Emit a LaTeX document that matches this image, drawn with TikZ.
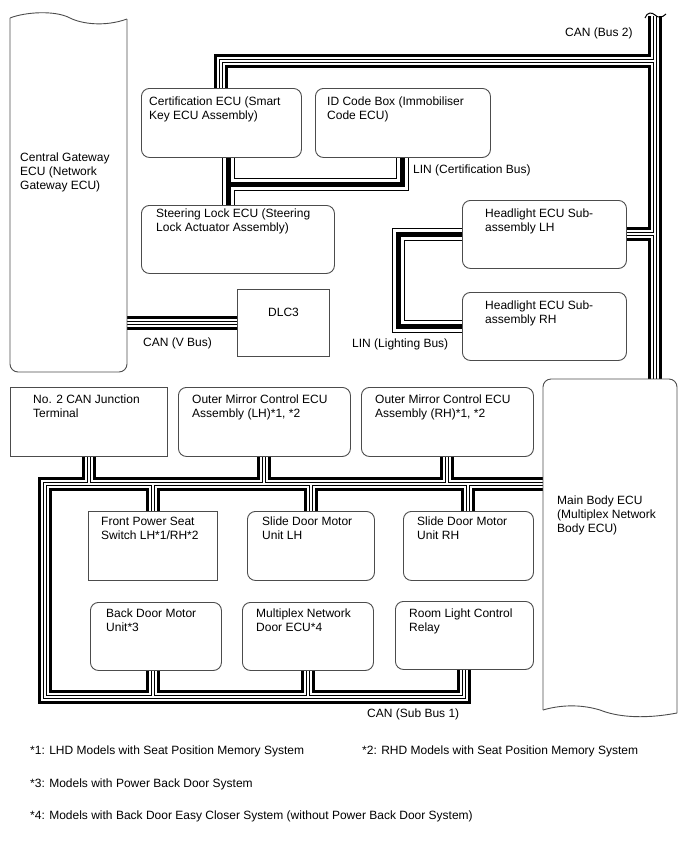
\documentclass[tikz,border=0pt]{standalone}
\usepackage{fontspec}
\setmainfont{Liberation Sans}
\begin{document}
\begin{tikzpicture}[x=1pt,y=-1pt,
  box/.style={draw=black!70, line width=0.9pt, fill=white, rounded corners=8pt, anchor=north west, inner sep=0pt},
  sbox/.style={box, rounded corners=0pt},
  ghost/.style={draw=none, fill=none, anchor=north west, inner sep=0pt, outer sep=0pt},
  outline/.style={draw=black!70, line width=0.9pt},
  txt/.style={anchor=north west, inner sep=0pt, align=left, font=\fontsize{12}{14}\selectfont},
  lbl/.style={anchor=base west, inner sep=0pt, font=\fontsize{12}{14}\selectfont},
]
\useasboundingbox (0,0) rectangle (688,852);

% ---------- ECU shapes with wavy edges ----------
\node[ghost, minimum width=117, minimum height=354] (gw) at (10,18) {};
\node[ghost, minimum width=134, minimum height=333] (mb) at (543,379) {};

% ---------- boxes ----------
\node[box, minimum width=160, minimum height=69] (cert) at (141,88) {};
\node[box, minimum width=175, minimum height=69] (idbox) at (315,88) {};
\node[box, minimum width=193, minimum height=68] (steer) at (141,205) {};
\node[sbox, minimum width=92, minimum height=67] (dlc) at (237,289) {};
\node[box, minimum width=164, minimum height=68] (hlL) at (462,200) {};
\node[box, minimum width=164, minimum height=68] (hlR) at (462,292) {};
\node[sbox, minimum width=157, minimum height=69] (jct) at (10,387) {};
\node[box, minimum width=172, minimum height=69] (mirL) at (178,387) {};
\node[box, minimum width=172, minimum height=69] (mirR) at (361,387) {};
\node[sbox, minimum width=129, minimum height=69] (seat) at (88,511) {};
\node[box, minimum width=127, minimum height=69] (slideL) at (247,511) {};
\node[box, minimum width=130, minimum height=69] (slideR) at (403,511) {};
\node[box, minimum width=131, minimum height=68] (back) at (90,602) {};
\node[box, minimum width=131, minimum height=68] (mux) at (242,602) {};
\node[box, minimum width=138, minimum height=68] (room) at (395,601) {};

% ---------- bus coordinates ----------
\coordinate (c2top) at (655,16);
\coordinate (c2a) at (221,61);
\coordinate (lc) at (228,184);
\coordinate (ll) at (398,235);
\coordinate (sbL) at (45,484);
\coordinate (sbB) at (45,697);

% ---------- CAN buses (twisted pair look) ----------
\foreach \w/\c in {14/black,8/white,4/black,2/white}{
  \begin{scope}[line width=\w pt, draw=\c]
    % CAN (Bus 2)
    \draw (c2top) -- (mb.north -| c2top);
    \draw (c2top |- c2a) -- (c2a) -- (cert.north -| c2a);
    \draw (hlL.east -| c2top) -- (hlL.east);
    % CAN (V Bus)
    \draw (gw.east |- dlc.west) -- (dlc.west);
    % CAN (Sub Bus 1)
    \draw (room.south) -- (room.south |- sbB) -- (sbB) -- (sbL) -- (mb.west |- sbL);
    \draw (jct.south) -- (jct.south |- sbL);
    \draw (mirL.south) -- (mirL.south |- sbL);
    \draw (mirR.south) -- (mirR.south |- sbL);
    \draw (seat.north) -- (seat.north |- sbL);
    \draw (slideL.north) -- (slideL.north |- sbL);
    \draw (slideR.north) -- (slideR.north |- sbL);
    \draw (back.south -| seat.north) -- (sbB -| seat.north);
    \draw (mux.south) -- (mux.south |- sbB);
  \end{scope}
}
% ---------- LIN buses ----------
\foreach \w/\c in {13/black,11/white,5/black}{
  \begin{scope}[line width=\w pt, draw=\c]
    \draw (cert.south -| lc) -- (steer.north -| lc);
    \draw (lc) -- (lc -| idbox.south) -- (idbox.south);
    \draw (hlL.west) -- (hlL.west -| ll) -- (hlR.west -| ll) -- (hlR.west);
  \end{scope}
}
% break symbol on top of CAN (Bus 2)
\draw[line width=1pt] (645,18) .. controls (647,12) and (652,12) .. (655,15) .. controls (658,18) and (662,18) .. (666,14);

% outlines of gateway and main body
\draw[outline, rounded corners=8pt] (10,18) -- (10,372) -- (127,372) -- (127,19);
\draw[outline] (10,18) .. controls (25,12) and (55,10) .. (70,18) .. controls (82,24) and (105,27) .. (127,19);
\draw[outline, rounded corners=8pt] (543,710) -- (543,379) -- (677,379) -- (677,713);
\draw[outline] (543,710) .. controls (560,705) and (580,704) .. (600,710) .. controls (615,716) and (640,720) .. (677,713);

% ---------- texts ----------
\node[txt] (gwT) at (20,153) {Central Gateway\\ECU (Network\\Gateway ECU)};
\node[txt] (mbT) at (557,496) {Main Body ECU\\(Multiplex Network\\Body ECU)};
\node[txt] (certT) at (149,97) {Certification ECU (Smart\\Key ECU Assembly)};
\node[txt] (idT) at (327,97) {ID Code Box (Immobiliser\\Code ECU)};
\node[txt] (steerT) at (156,209) {Steering Lock ECU (Steering\\Lock Actuator Assembly)};
\node[lbl] (dlcT) at (268,316) {DLC3};
\node[txt] (hlLT) at (485,209) {Headlight ECU Sub-\\assembly LH};
\node[txt] (hlRT) at (485,301) {Headlight ECU Sub-\\assembly RH};
\node[txt] (jctT) at (33,395) {No. 2 CAN Junction\\Terminal};
\node[txt] (mirLT) at (192,395) {Outer Mirror Control ECU\\Assembly (LH)*1, *2};
\node[txt] (mirRT) at (375,395) {Outer Mirror Control ECU\\Assembly (RH)*1, *2};
\node[txt] (seatT) at (101,517) {Front Power Seat\\Switch LH*1/RH*2};
\node[txt] (slideLT) at (262,517) {Slide Door Motor\\Unit LH};
\node[txt] (slideRT) at (417,517) {Slide Door Motor\\Unit RH};
\node[txt] (backT) at (106,609) {Back Door Motor\\Unit*3};
\node[txt] (muxT) at (256,609) {Multiplex Network\\Door ECU*4};
\node[txt] (roomT) at (409,609) {Room Light Control\\Relay};

\node[lbl] (canb2) at (565,36) {CAN (Bus 2)};
\node[lbl] (lincert) at (413,173) {LIN (Certification Bus)};
\node[lbl] (linlight) at (352,347) {LIN (Lighting Bus)};
\node[lbl] (canv) at (143,346) {CAN (V Bus)};
\node[lbl] (cansub) at (367,717) {CAN (Sub Bus 1)};

\node[lbl] (fn1) at (30,754) {*1: LHD Models with Seat Position Memory System};
\node[lbl] (fn2) at (362,754) {*2: RHD Models with Seat Position Memory System};
\node[lbl] (fn3) at (30,787) {*3: Models with Power Back Door System};
\node[lbl] (fn4) at (30,819) {*4: Models with Back Door Easy Closer System (without Power Back Door System)};
\end{tikzpicture}
\end{document}
